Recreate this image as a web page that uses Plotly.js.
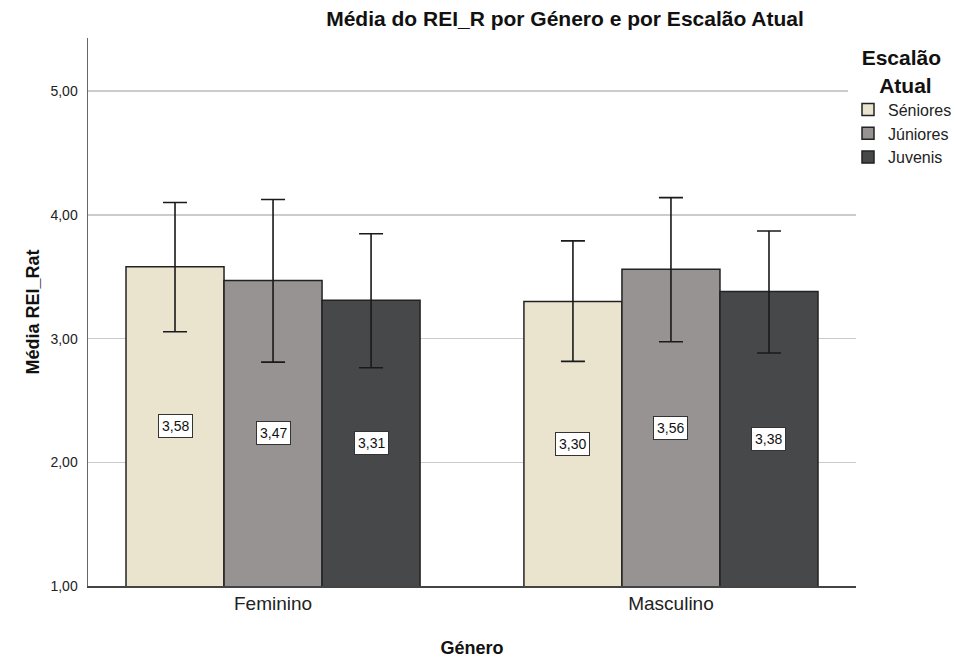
<!DOCTYPE html>
<html>
<head>
<meta charset="utf-8">
<script src="https://cdn.plot.ly/plotly-3.0.1.min.js"></script>
<style>html,body{margin:0;padding:0;background:#fff;}#chart{width:955px;height:663px;}</style>
</head>
<body>
<div id="chart"></div>
<script>
const categories = ['Feminino', 'Masculino'];
const seriesNames = ['Séniores', 'Júniores', 'Juvenis'];
const seniores = [3.58, 3.30];
const juniores = [3.47, 3.56];
const juvenis = [3.31, 3.38];
const senioresUp = [0.52, 0.49];
const senioresDown = [0.525, 0.484];
const junioresUp = [0.655, 0.58];
const junioresDown = [0.66, 0.586];
const juvenisUp = [0.537, 0.49];
const juvenisDown = [0.546, 0.497];
const yTicks = [1, 2, 3, 4, 5];

const colors = ['#EAE4CF', '#979392', '#47484A'];
const values = [seniores, juniores, juvenis];
const ups = [senioresUp, junioresUp, juvenisUp];
const downs = [senioresDown, junioresDown, juvenisDown];

const traces = values.map((v, i) => ({
  type: 'bar',
  name: seriesNames[i],
  x: categories,
  y: v,
  marker: {color: colors[i], line: {color: '#222222', width: 1.5}},
  error_y: {type: 'data', symmetric: false, array: ups[i], arrayminus: downs[i],
            color: '#1a1a1a', thickness: 1.6, width: 12},
  hoverinfo: 'none'
}));

const bargap = 0.261;
const barW = (1 - bargap) / 3;
const annotations = [];
values.forEach((v, i) => {
  v.forEach((val, j) => {
    annotations.push({
      x: j + (i - 1) * barW, y: (1 + val) / 2, xref: 'x', yref: 'y',
      text: val.toFixed(2).replace('.', ','), showarrow: false,
      bgcolor: '#ffffff', bordercolor: '#333333', borderwidth: 1, borderpad: 3,
      font: {family: 'Liberation Sans, Arial, sans-serif', size: 14, color: '#111'}
    });
  });
});

const layout = {
  width: 955, height: 663,
  margin: {l: 88, r: 99, t: 38, b: 77, autoexpand: false},
  paper_bgcolor: '#ffffff', plot_bgcolor: '#ffffff',
  separators: ',.',
  barmode: 'group', bargap: bargap, bargroupgap: 0,
  font: {family: 'Liberation Sans, Arial, sans-serif', color: '#222'},
  title: {text: '<b>Média do REI_R por Género e por Escalão Atual</b>',
          x: 565 / 955, xanchor: 'center', xref: 'container', y: 1 - 19 / 663, yanchor: 'middle', yref: 'container',
          font: {size: 21, color: '#111'}},
  xaxis: {type: 'category', range: [-0.465, 1.465], showgrid: false,
          showline: true, linecolor: '#444', linewidth: 1.5, ticks: '',
          tickfont: {size: 19, color: '#222'},
          title: {text: '<b>Género</b>', font: {size: 18, color: '#111'}, standoff: 28}},
  yaxis: {range: [1, 5.43], tickvals: yTicks, tickformat: '.2f',
          showgrid: true, gridcolor: '#cccccc', gridwidth: 1.5,
          showline: true, linecolor: '#666', linewidth: 1.5, ticks: '',
          ticklabelstandoff: 6,
          zeroline: false, tickfont: {size: 14, color: '#222'},
          title: {text: '<b>Média REI_Rat</b>', font: {size: 18, color: '#111'}, standoff: 6}},
  legend: {x: (848 - 88) / 768, xanchor: 'left', y: 1.0, yanchor: 'top',
           title: {text: '<b>&nbsp;&nbsp;Escalão<br>&nbsp;&nbsp;&nbsp;&nbsp;&nbsp;Atual</b>', side: 'top', font: {size: 21, color: '#111'}},
           font: {size: 16, color: '#222'}, itemwidth: 30, tracegroupgap: 0, traceorder: 'normal'},
  annotations: annotations
};

Plotly.newPlot('chart', traces, layout, {displayModeBar: false, staticPlot: true});
</script>
</body>
</html>
